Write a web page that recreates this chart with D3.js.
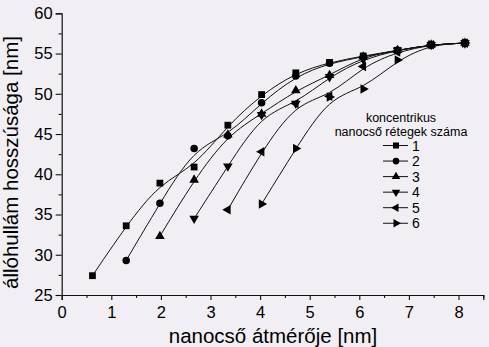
<!DOCTYPE html>
<html>
<head>
<meta charset="utf-8">
<script src="https://cdn.jsdelivr.net/npm/d3@7"></script>
<style>
  html, body { margin: 0; padding: 0; background: #f1eff4; }
  svg { display: block; }
  text { font-family: "Liberation Sans", Arial, sans-serif; fill: #000; }
</style>
</head>
<body>
<svg id="chart" width="489" height="347"></svg>
<script>
// Nanotube diameter grid [nm]
const diameters = [0.62, 1.30, 1.98, 2.67, 3.35, 4.03, 4.72, 5.40, 6.08, 6.77, 7.45, 8.13];

// Standing-wave length [nm] for each number of concentric layers (null = no point)
const layers1 = [27.4, 33.6, 38.9, 40.9, 46.1, 49.9, 52.6, 53.9, 54.7, 55.4, 56.1, 56.3];
const layers2 = [null, 29.3, 36.4, 43.2, 44.8, 48.9, 52.2, 53.8, 54.6, 55.4, 56.1, 56.3];
const layers3 = [null, null, 32.3, 39.3, 44.9, 47.5, 50.4, 52.3, 54.6, 55.4, 56.1, 56.3];
const layers4 = [null, null, null, 34.5, 41.0, 47.4, 48.8, 52.1, 54.3, 55.4, 56.1, 56.3];
const layers5 = [null, null, null, null, 35.6, 42.8, 48.8, 49.7, 53.4, 55.2, 56.1, 56.3];
const layers6 = [null, null, null, null, null, 36.3, 43.2, 49.6, 50.6, 54.2, 56.1, 56.3];

const seriesNames = ["1", "2", "3", "4", "5", "6"];
const seriesValues = [layers1, layers2, layers3, layers4, layers5, layers6];

const xTicks = [0, 1, 2, 3, 4, 5, 6, 7, 8];
const xMinorTicks = [0.5, 1.5, 2.5, 3.5, 4.5, 5.5, 6.5, 7.5, 8.5];
const yTicks = [25, 30, 35, 40, 45, 50, 55, 60];
const yMinorTicks = [27.5, 32.5, 37.5, 42.5, 47.5, 52.5, 57.5];

const xTitle = "nanocső átmérője [nm]";
const yTitle = "állóhullám hosszúsága [nm]";
const legendTitle = ["koncentrikus", "nanocső rétegek száma"];

const svg = d3.select("#chart");

const x = d3.scaleLinear().domain([0, 8.5]).range([61.7, 483.3]);
const y = d3.scaleLinear().domain([25, 60]).range([295, 13.3]);

// Marker shapes: square, circle, up / down / left / right triangles
const markerDefs = [
  { type: d3.symbolSquare, size: 46, rot: 0 },
  { type: d3.symbolCircle, size: 44, rot: 0 },
  { type: d3.symbolTriangle, size: 40, rot: 0 },
  { type: d3.symbolTriangle, size: 40, rot: 180 },
  { type: d3.symbolTriangle, size: 40, rot: -90 },
  { type: d3.symbolTriangle, size: 40, rot: 90 }
];

// Axes
const axisColor = "#111";
const gx = svg.append("g").attr("transform", `translate(0,${y(25)})`);
gx.call(d3.axisBottom(x).tickValues(xTicks).tickFormat(d3.format("d")).tickSize(5).tickPadding(6));
gx.append("g").call(d3.axisBottom(x).tickValues(xMinorTicks).tickFormat("").tickSize(3))
  .select(".domain").remove();

const gy = svg.append("g").attr("transform", `translate(${x(0)},0)`);
gy.call(d3.axisLeft(y).tickValues(yTicks).tickFormat(d3.format("d")).tickSize(6).tickPadding(3));
gy.append("g").call(d3.axisLeft(y).tickValues(yMinorTicks).tickFormat("").tickSize(3))
  .select(".domain").remove();

svg.selectAll(".domain").attr("stroke", axisColor).attr("stroke-width", 1.2);
svg.selectAll(".tick line").attr("stroke", axisColor).attr("stroke-width", 1.1);
svg.selectAll(".tick text").attr("font-size", 16.5).attr("font-family", "Liberation Sans, Arial, sans-serif").attr("fill", "#000");

// Axis titles
svg.append("text")
  .attr("x", 273).attr("y", 343)
  .attr("text-anchor", "middle")
  .attr("font-size", 20.5)
  .text(xTitle);

svg.append("text")
  .attr("transform", `translate(18,${162.5}) rotate(-90)`)
  .attr("text-anchor", "middle")
  .attr("font-size", 20.5)
  .text(yTitle);

// Smoothed curves (cubic B-spline through the measured points)
const line = d3.line()
  .defined(d => d.v != null)
  .x(d => x(d.d))
  .y(d => y(d.v))
  .curve(d3.curveBasis);

const seriesData = seriesValues.map(vals =>
  diameters.map((d, i) => ({ d, v: vals[i] })).filter(p => p.v != null));

const plot = svg.append("g");
seriesData.forEach(pts => {
  plot.append("path")
    .attr("d", line(pts))
    .attr("fill", "none")
    .attr("stroke", "#111")
    .attr("stroke-width", 1);
});

seriesData.forEach((pts, si) => {
  const m = markerDefs[si];
  const sym = d3.symbol().type(m.type).size(m.size);
  plot.selectAll(null)
    .data(pts)
    .enter().append("path")
    .attr("d", sym)
    .attr("transform", p => `translate(${x(p.d)},${y(p.v)}) rotate(${m.rot})`)
    .attr("fill", "#000");
});

// Legend
const legend = svg.append("g");
legend.selectAll("text.title")
  .data(legendTitle)
  .enter().append("text")
  .attr("class", "title")
  .attr("x", 401)
  .attr("y", (d, i) => 122 + i * 13.5)
  .attr("text-anchor", "middle")
  .attr("font-size", 12.5)
  .text(d => d);

seriesNames.forEach((name, i) => {
  const yy = 145.5 + i * 15.55;
  const g = legend.append("g");
  g.append("line")
    .attr("x1", 383).attr("x2", 408)
    .attr("y1", yy).attr("y2", yy)
    .attr("stroke", "#111").attr("stroke-width", 1);
  const m = markerDefs[i];
  g.append("path")
    .attr("d", d3.symbol().type(m.type).size(m.size * 0.8))
    .attr("transform", `translate(396,${yy}) rotate(${m.rot})`)
    .attr("fill", "#000");
  g.append("text")
    .attr("x", 412).attr("y", yy + 5)
    .attr("font-size", 14)
    .text(name);
});
</script>
</body>
</html>
